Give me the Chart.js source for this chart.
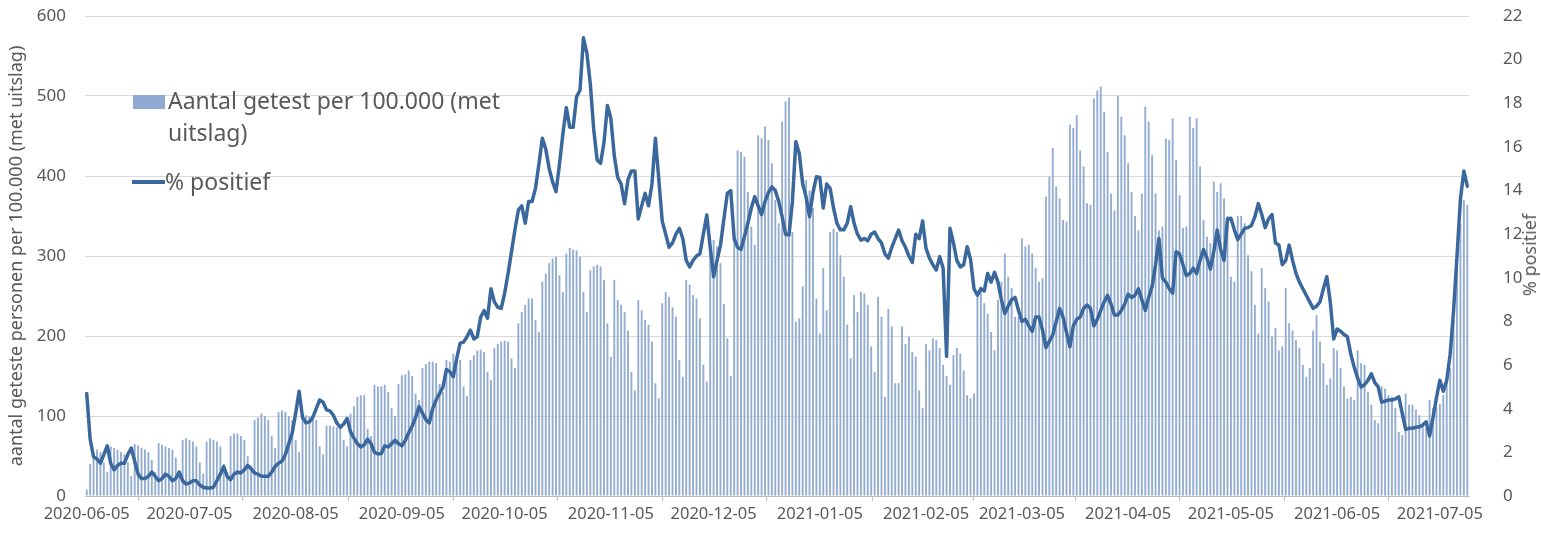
<!DOCTYPE html>
<html>
<head>
<meta charset="utf-8">
<script src="https://cdn.jsdelivr.net/npm/chart.js@4.4.1/dist/chart.umd.min.js"></script>
<style>
  html, body { margin: 0; padding: 0; background: #fff; }
  #wrap { position: relative; width: 1541px; height: 533px; }
  #chart { position: absolute; left: 0; top: 0; }
  .lg { position: absolute; font-family: "Noto Sans", sans-serif; font-size: 23px; color: #595959; line-height: 32px; white-space: nowrap; }
  .swatch { position: absolute; background: #8FAAD3; }
  .lineswatch { position: absolute; height: 4px; background: #3A679C; }
  #ytitle2 { position: absolute; font-family: "Noto Sans", sans-serif; font-size: 18px; line-height: 20px; color: #595959;
             left: 1529px; top: 255px; transform: translate(-50%, -50%) rotate(-90deg); white-space: nowrap; }
</style>
</head>
<body>
<div id="wrap">
  <canvas id="chart" width="1541" height="533"></canvas>
  <div class="swatch" style="left:133px;top:95px;width:32px;height:14px;"></div>
  <div class="lg" style="left:168px;top:84px;">Aantal getest per 100.000 (met<br>uitslag)</div>
  <div class="lineswatch" style="left:132px;top:180px;width:33px;"></div>
  <div class="lg" style="left:165px;top:165px;">% positief</div>
  <div id="ytitle2">% positief</div>
</div>
<script>
// first day of the series and number of days
const startDate = [2020, 5, 5];
const dayCount = 404;

// aantal getest per 100.000 (met uitslag), one value per day
const tested = [
  8, 40, 48, 58, 55, 42, 30,
  62, 60, 58, 55, 52, 42, 25,
  65, 63, 60, 58, 55, 45, 30,
  66, 64, 62, 60, 58, 48, 32,
  70, 72, 70, 68, 62, 42, 28,
  68, 72, 70, 68, 62, 40, 30,
  75, 78, 78, 75, 70, 50, 38,
  95, 98, 103, 100, 95, 75, 60,
  105, 107, 105, 100, 95, 70, 55,
  102, 101, 100, 98, 95, 62, 52,
  88, 88, 87, 86, 85, 70, 62,
  103, 112, 124, 126, 126, 84, 75,
  139, 137, 137, 139, 130, 110, 100,
  140, 151, 152, 157, 150, 128, 120,
  160, 165, 168, 168, 166, 140, 130,
  170, 168, 178, 175, 170, 137, 125,
  170, 176, 182, 183, 180, 155, 145,
  185, 190, 193, 194, 193, 172, 160,
  216, 230, 239, 247, 247, 220, 205,
  268, 278, 291, 297, 299, 276, 255,
  303, 310, 308, 307, 299, 255, 230,
  282, 287, 289, 287, 270, 216, 174,
  270, 245, 239, 230, 207, 155, 132,
  245, 232, 220, 214, 193, 141, 122,
  241, 255, 249, 236, 224, 170, 149,
  270, 264, 251, 247, 222, 164, 143,
  312, 320, 312, 291, 240, 197, 150,
  320, 432, 430, 424, 380, 337, 314,
  451, 447, 462, 445, 416, 370, 341,
  468, 493, 498, 330, 218, 222, 262,
  395, 382, 360, 247, 203, 285, 232,
  330, 334, 330, 301, 274, 214, 172,
  251, 230, 255, 253, 239, 187, 155,
  249, 224, 124, 234, 212, 141, 141,
  212, 190, 199, 180, 174, 132, 110,
  190, 182, 197, 195, 185, 164, 150,
  139, 176, 185, 178, 157, 126, 122,
  128, 249, 262, 241, 228, 205, 182,
  245, 268, 303, 274, 260, 224, 224,
  322, 312, 314, 303, 285, 268, 272,
  374, 399, 435, 387, 372, 345, 343,
  464, 460, 476, 432, 412, 366, 364,
  497, 507, 512, 480, 430, 378, 357,
  500, 474, 451, 416, 380, 350, 332,
  378, 487, 468, 426, 378, 332, 337,
  447, 445, 472, 420, 376, 335, 337,
  474, 460, 472, 412, 345, 324, 316,
  393, 380, 391, 372, 350, 274, 268,
  350, 350, 341, 301, 281, 239, 203,
  285, 260, 243, 199, 210, 182, 187,
  260, 216, 207, 195, 185, 164, 149,
  160, 207, 226, 193, 166, 139, 147,
  185, 182, 160, 137, 122, 124, 120,
  182, 166, 164, 130, 114, 95, 91,
  137, 134, 126, 124, 110, 80, 76,
  128, 114, 114, 108, 101, 91, 85,
  120, 110, 111, 115, 126, 143, 160,
  220, 312, 340, 370, 364
];

// % positief, one value per day
const positive = [
  4.7, 2.6, 1.8, 1.7, 1.5, 1.9, 2.3, 1.5, 1.2, 1.4,
  1.5, 1.5, 1.9, 2.2, 1.6, 1.0, 0.8, 0.8, 0.9, 1.1,
  0.9, 0.7, 0.8, 1.0, 0.9, 0.7, 0.8, 1.1, 0.7, 0.55,
  0.6, 0.7, 0.7, 0.5, 0.4, 0.37, 0.37, 0.4, 0.7, 1.0,
  1.35, 0.9, 0.75, 1.0, 1.1, 1.05, 1.2, 1.4, 1.25, 1.05,
  1.0, 0.9, 0.9, 0.9, 1.1, 1.35, 1.5, 1.6, 1.9, 2.4,
  2.9, 3.8, 4.8, 3.6, 3.35, 3.4, 3.6, 4.0, 4.4, 4.3,
  3.95, 3.9, 3.7, 3.35, 3.15, 3.3, 3.55, 2.95, 2.65, 2.4,
  2.25, 2.35, 2.6, 2.4, 2.0, 1.93, 1.95, 2.3, 2.25, 2.4,
  2.55, 2.4, 2.3, 2.55, 2.9, 3.2, 3.6, 4.1, 3.8, 3.5,
  3.35, 4.0, 4.4, 4.7, 5.0, 5.8, 5.7, 5.47, 6.3, 7.0,
  7.05, 7.3, 7.6, 7.2, 7.3, 8.2, 8.5, 8.15, 9.5, 8.9,
  8.65, 8.6, 9.3, 10.2, 11.2, 12.2, 13.1, 13.3, 12.5, 13.5,
  13.5, 14.1, 15.2, 16.4, 15.9, 15.0, 14.4, 13.95, 15.2, 16.6,
  17.8, 16.9, 16.9, 18.3, 18.6, 21.0, 20.3, 18.9, 16.8, 15.4,
  15.25, 16.2, 17.9, 17.3, 15.6, 14.6, 14.3, 13.4, 14.5, 14.9,
  14.9, 12.7, 13.3, 13.87, 13.3, 14.3, 16.4, 14.5, 12.6, 12.0,
  11.4, 11.6, 12.0, 12.27, 11.8, 10.8, 10.5, 10.8, 11.0, 11.1,
  12.0, 12.88, 11.4, 10.05, 10.8, 11.5, 12.7, 13.87, 14.0, 11.8,
  11.4, 11.3, 11.9, 12.5, 13.2, 13.72, 13.3, 12.9, 13.5, 13.9,
  14.17, 14.0, 13.5, 12.8, 12.0, 11.96, 13.5, 16.24, 15.7, 14.3,
  13.7, 12.8, 13.9, 14.63, 14.6, 13.2, 14.3, 14.1, 13.2, 12.5,
  12.2, 12.2, 12.5, 13.26, 12.5, 12.0, 11.73, 11.8, 11.7, 12.0,
  12.1, 11.8, 11.6, 11.1, 10.9, 11.4, 11.8, 12.19, 11.7, 11.4,
  11.0, 10.7, 12.0, 11.8, 12.6, 11.35, 10.9, 10.6, 10.36, 10.97,
  10.44, 6.4, 12.27, 11.6, 10.8, 10.5, 10.6, 11.42, 10.85, 9.5,
  9.2, 9.5, 9.4, 10.2, 9.8, 10.25, 9.8, 9.0, 8.37, 8.7,
  9.0, 9.1, 8.5, 8.0, 8.1, 7.8, 7.55, 8.2, 8.2, 7.6,
  6.8, 7.1, 7.38, 8.0, 8.6, 8.2, 7.5, 6.84, 7.8, 8.1,
  8.2, 8.6, 8.75, 8.6, 7.8, 8.1, 8.5, 8.9, 9.2, 8.8,
  8.3, 8.3, 8.5, 8.8, 9.25, 9.1, 9.2, 9.5, 9.0, 8.5,
  9.1, 9.6, 10.6, 11.8, 10.0, 9.8, 9.5, 9.3, 11.2, 11.1,
  10.6, 10.1, 10.2, 10.44, 10.2, 10.8, 11.3, 10.9, 10.4, 11.2,
  12.19, 11.3, 10.8, 12.7, 12.73, 12.2, 11.75, 12.0, 12.27, 12.3,
  12.4, 12.8, 13.4, 12.9, 12.3, 12.7, 12.9, 11.6, 11.5, 10.6,
  10.8, 11.5, 10.8, 10.2, 9.8, 9.5, 9.2, 8.9, 8.6, 8.7,
  8.9, 9.5, 10.05, 8.9, 7.2, 7.65, 7.55, 7.4, 7.3, 6.5,
  5.9, 5.4, 5.0, 5.1, 5.3, 5.6, 5.2, 5.0, 4.3, 4.35,
  4.4, 4.4, 4.45, 4.55, 3.8, 3.05, 3.1, 3.1, 3.15, 3.17,
  3.25, 3.4, 2.75, 3.6, 4.5, 5.3, 4.8, 5.3, 6.5, 8.5,
  11.0, 13.6, 14.9, 14.2
];

// day labels, only the 5th of every month is shown on the axis
const dates = [];
for (let i = 0; i < dayCount; i++) {
  const d = new Date(Date.UTC(startDate[0], startDate[1], startDate[2] + i));
  dates.push(d.toISOString().slice(0, 10));
}

const fontFamily = '"Noto Sans", "Open Sans", sans-serif';
const textColor = '#595959';
const clear = 'rgba(0,0,0,0)';

new Chart(document.getElementById('chart'), {
  data: {
    labels: dates,
    datasets: [
      {
        type: 'line',
        label: '% positief',
        data: positive,
        yAxisID: 'y2',
        borderColor: '#3A679C',
        borderWidth: 3.5,
        pointRadius: 0,
        tension: 0,
        borderJoinStyle: 'round',
        borderCapStyle: 'round',
        order: 0
      },
      {
        type: 'bar',
        label: 'Aantal getest per 100.000 (met uitslag)',
        data: tested,
        yAxisID: 'y',
        backgroundColor: '#93ACD1',
        barPercentage: 0.55,
        categoryPercentage: 1.0,
        order: 1
      }
    ]
  },
  options: {
    responsive: false,
    animation: false,
    layout: { padding: { top: 16, left: 0, right: 0, bottom: 0 } },
    plugins: { legend: { display: false }, tooltip: { enabled: false } },
    scales: {
      x: {
        offset: true,
        grid: { display: true, drawOnChartArea: false, drawTicks: true, tickLength: 5, color: '#bfbfbf' },
        border: { display: true, color: '#bfbfbf' },
        ticks: {
          autoSkip: false, maxRotation: 0, minRotation: 0, padding: 3,
          color: textColor, font: { family: fontFamily, size: 16.5 },
          callback: function (value, index) {
            const l = dates[index];
            return l.endsWith('-05') ? l : null;
          }
        },
        afterFit: function (s) { s.height = 37; }
      },
      y: {
        position: 'left',
        min: 0, max: 600,
        ticks: { stepSize: 100, padding: 3, color: textColor, font: { family: fontFamily, size: 17 } },
        grid: { color: '#d9d9d9', drawTicks: true, tickLength: 16, tickColor: clear },
        border: { display: false },
        title: {
          display: true,
          text: 'aantal geteste personen per 100.000 (met uitslag)',
          color: textColor,
          font: { family: fontFamily, size: 18 },
          padding: { top: 6, bottom: 0 }
        },
        afterFit: function (s) { s.width = 85; }
      },
      y2: {
        position: 'right',
        min: 0, max: 22,
        ticks: { stepSize: 2, padding: 3, color: textColor, font: { family: fontFamily, size: 17 } },
        grid: { drawOnChartArea: false, drawTicks: true, tickLength: 31, tickColor: clear },
        border: { display: false },
        afterFit: function (s) { s.width = 72; }
      }
    }
  }
});
</script>
</body>
</html>
